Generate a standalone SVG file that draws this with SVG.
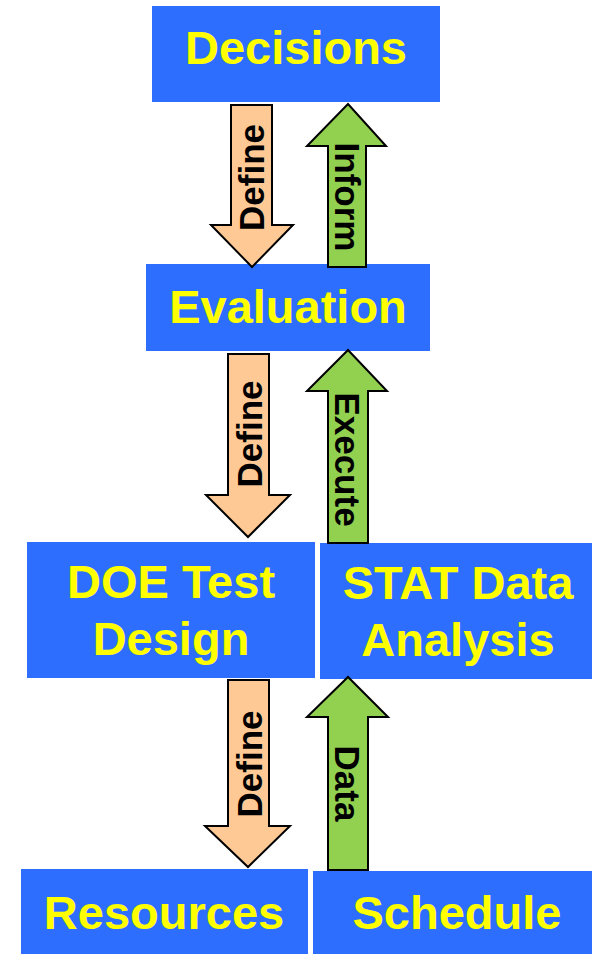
<svg xmlns="http://www.w3.org/2000/svg" width="592" height="954" viewBox="0 0 592 954">
  <style>
    .box { fill: #2D6EFF; }
    .lbl { font-family: "Liberation Sans", Arial, sans-serif; font-weight: bold; font-size: 47px; fill: #FFFF00; text-anchor: middle; }
    .down { fill: #FFC995; stroke: #000; stroke-width: 2; stroke-linejoin: miter; }
    .up { fill: #92D050; stroke: #000; stroke-width: 2; stroke-linejoin: miter; }
    .alab { font-family: "Liberation Sans", Arial, sans-serif; font-weight: bold; font-size: 35px; fill: #000; text-anchor: middle; }
  </style>
  <rect width="592" height="954" fill="#fff"/>

  <g id="decisions">
    <rect class="box" x="152" y="6" width="288" height="96"/>
    <text class="lbl" x="296" y="64">Decisions</text>
  </g>
  <g id="evaluation">
    <rect class="box" x="146" y="264" width="284" height="87"/>
    <text class="lbl" x="288" y="323">Evaluation</text>
  </g>
  <g id="doe-test-design">
    <rect class="box" x="27" y="542" width="288" height="136"/>
    <text class="lbl" x="171" y="598">DOE Test</text>
    <text class="lbl" x="171" y="655">Design</text>
  </g>
  <g id="stat-data-analysis">
    <rect class="box" x="320" y="543" width="272" height="136"/>
    <text class="lbl" x="458" y="599">STAT Data</text>
    <text class="lbl" x="458" y="656">Analysis</text>
  </g>
  <g id="resources">
    <rect class="box" x="21" y="869" width="287" height="85"/>
    <text class="lbl" x="164" y="929">Resources</text>
  </g>
  <g id="schedule">
    <rect class="box" x="313" y="871" width="279" height="83"/>
    <text class="lbl" x="457" y="929">Schedule</text>
  </g>

  <g id="connectors">
    <!-- Decisions -> Evaluation -->
    <polygon class="down" points="231,105 272,105 272,225 293,225 252,267 211,225 231,225"/>
    <text class="alab" transform="translate(264,177.5) rotate(-90)">Define</text>
    <!-- Evaluation -> Decisions -->
    <polygon class="up" points="328,267 366,267 366,146 386,146 348,104 307,146 328,146"/>
    <text class="alab" transform="translate(335,197) rotate(90)">Inform</text>

    <!-- Evaluation -> DOE Test Design -->
    <polygon class="down" points="228,354 269,354 269,495 290,495 248,537 206,495 228,495"/>
    <text class="alab" transform="translate(262,434) rotate(-90)">Define</text>
    <!-- STAT Data Analysis -> Evaluation -->
    <polygon class="up" points="328,543 368,543 368,391 387,391 348,350 307,391 328,391"/>
    <text class="alab" transform="translate(335,459.5) rotate(90)">Execute</text>

    <!-- DOE Test Design -> Resources -->
    <polygon class="down" points="228,680 269,680 269,826 290,826 248,867 205,826 228,826"/>
    <text class="alab" transform="translate(262,764) rotate(-90)">Define</text>
    <!-- Schedule -> STAT Data Analysis -->
    <polygon class="up" points="328,870 368,870 368,717 388,717 348,677 307,717 328,717"/>
    <text class="alab" transform="translate(335,783.5) rotate(90)">Data</text>
  </g>
</svg>
